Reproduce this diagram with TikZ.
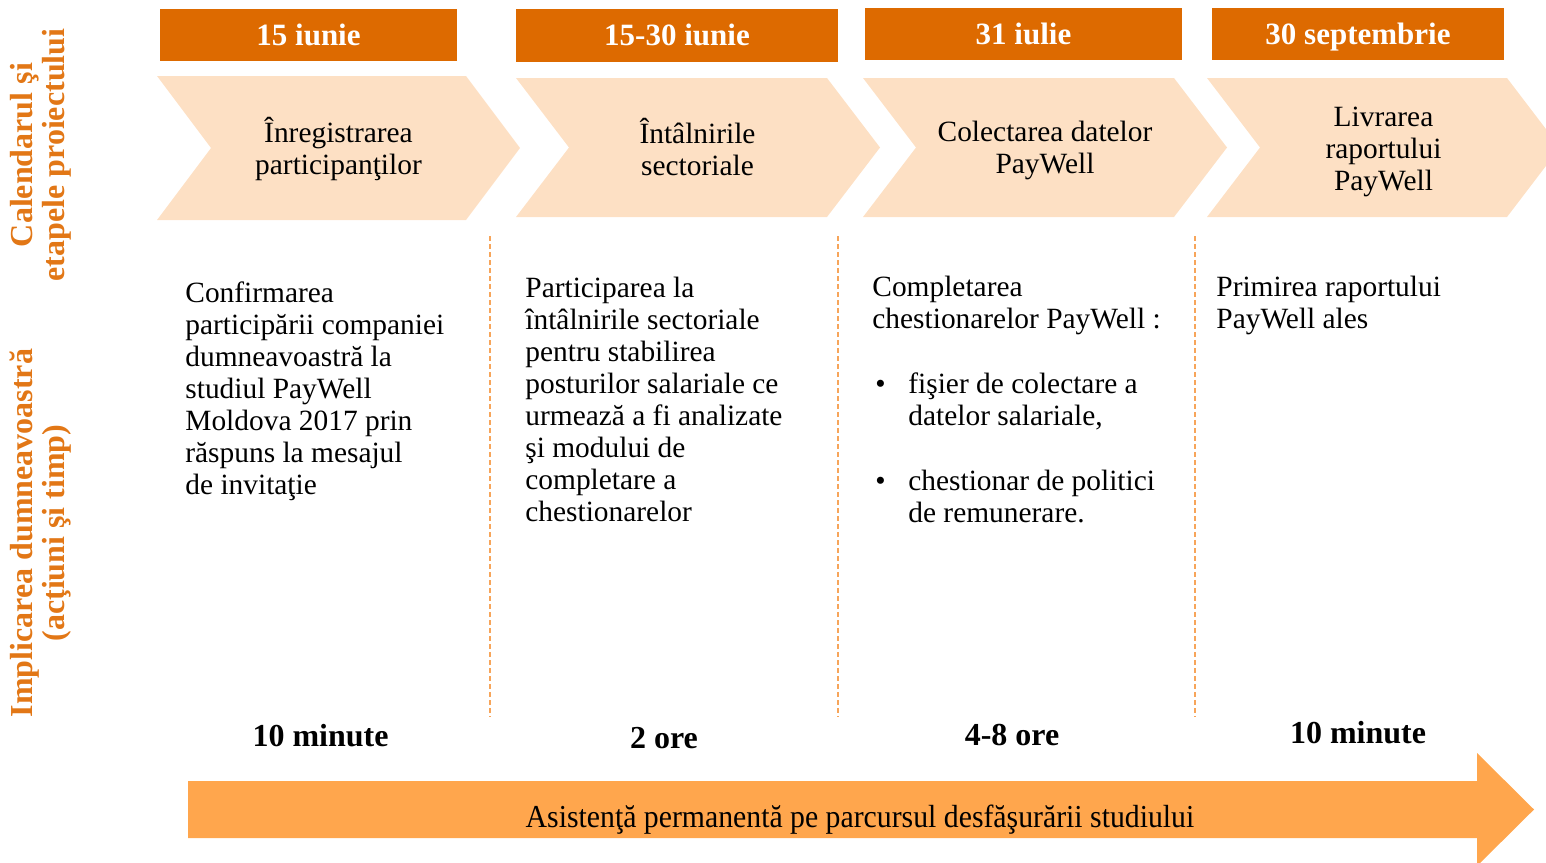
\documentclass[tikz,border=0pt]{standalone}
\usepackage{fontspec}
\setmainfont{Liberation Serif}
\usetikzlibrary{positioning}

\definecolor{datebar}{RGB}{221,106,0}
\definecolor{stagefill}{RGB}{253,224,196}
\definecolor{arrowfill}{RGB}{255,166,77}
\definecolor{sidelabel}{RGB}{226,119,22}
\definecolor{divider}{RGB}{247,165,90}

\tikzset{
  datebox/.style={fill=datebar, text=white, inner sep=0pt, text height=10pt, text depth=0pt, font=\fontsize{15.5}{18}\selectfont\bfseries},
  stagetext/.style={align=center, inner sep=0pt, font=\fontsize{14.7}{16}\selectfont},
  bodytext/.style={align=left, anchor=north west, inner sep=0pt, font=\fontsize{14.7}{16}\selectfont},
  timetext/.style={anchor=base, inner sep=0pt, font=\fontsize{16}{18}\selectfont\bfseries},
  sidetext/.style={rotate=90, align=center, inner sep=0pt, text=sidelabel, font=\fontsize{16}{16}\selectfont\bfseries},
}

\begin{document}
\begin{tikzpicture}[x=0.5pt,y=-0.5pt]
  \useasboundingbox (0,0) rectangle (1546,862);

  % side titles
  \node[sidetext] (calendar) at (41,155) {Calendarul şi\\etapele proiectului};
  \node[sidetext] (involve) at (41,533) {Implicarea dumneavoastră\\(acţiuni şi timp)};

  % dates
  \node[datebox, minimum width=148.5pt, minimum height=26pt] (d1) at (308.5,35) {15 iunie};
  \node[datebox, minimum width=161pt, minimum height=26.5pt] (d2) at (677,35.5) {15-30 iunie};
  \node[datebox, minimum width=158.5pt, minimum height=26pt] (d3) at (1023.5,34) {31 iulie};
  \node[datebox, minimum width=146pt, minimum height=26pt] (d4) at (1358,34) {30 septembrie};

  % stages
  \foreach \l/\r/\t/\b/\e in {157/466/76/220/54, 516/827/78/217/53, 863/1174/78/217/53, 1207/1507/78/217/53}
    \fill[stagefill] (\l,\t) -- (\r,\t) -- ({\r+\e},{(\t+\b)/2}) -- (\r,\b) -- (\l,\b) -- ({\l+\e},{(\t+\b)/2}) -- cycle;
  \node[stagetext] (s1) at (338.5,149) {Înregistrarea\\participanţilor};
  \node[stagetext] (s2) at (697.5,147) {Întâlnirile\\sectoriale};
  \node[stagetext] (s3) at (1045,150.5) {Colectarea datelor\\PayWell};
  \node[stagetext] (s4) at (1383.5,151.5) {Livrarea\\raportului\\PayWell};

  % dividers
  \foreach \x [count=\i] in {490,838,1195} {
    \coordinate (top\i) at (\x,236);
    \coordinate (bot\i) at (\x,717);
    \draw[divider, line width=0.75pt, dash pattern=on 2.5pt off 1.5pt] (top\i) -- (bot\i);
  }

  % actions
  \node[bodytext] (a1) at (185,281) {Confirmarea\\participării companiei\\dumneavoastră la\\studiul PayWell\\Moldova 2017 prin\\răspuns la mesajul\\de invitaţie};
  \node[bodytext] (a2) at (525,277) {Participarea la\\întâlnirile sectoriale\\pentru stabilirea\\posturilor salariale ce\\urmează a fi analizate\\şi modului de\\completare a\\chestionarelor};
  \node[bodytext] (a3) at (872,276) {Completarea\\chestionarelor PayWell :\\[16.5pt]
    \hspace*{1.5pt}\makebox[16.5pt][l]{\textbullet}fişier de colectare a\\\hspace*{18pt}datelor salariale,\\[16.5pt]
    \hspace*{1.5pt}\makebox[16.5pt][l]{\textbullet}chestionar de politici\\\hspace*{18pt}de remunerare.};
  \node[bodytext] (a4) at (1216,276) {Primirea raportului\\PayWell ales};

  % time
  \node[timetext] (t1) at (320.5,746) {10 minute};
  \node[timetext] (t2) at (664,748) {2 ore};
  \node[timetext] (t3) at (1012,745) {4-8 ore};
  \node[timetext] (t4) at (1358,743) {10 minute};

  % support arrow
  \fill[arrowfill] (188,781) -- (1477,781) -- (1477,753) -- (1534,809.5) -- (1477,866) -- (1477,838) -- (188,838) -- cycle;
  \node[anchor=base, inner sep=0pt, xscale=0.93, font=\fontsize{16}{18}\selectfont] (assist) at (860,827) {Asistenţă permanentă pe parcursul desfăşurării studiului};
\end{tikzpicture}
\end{document}
